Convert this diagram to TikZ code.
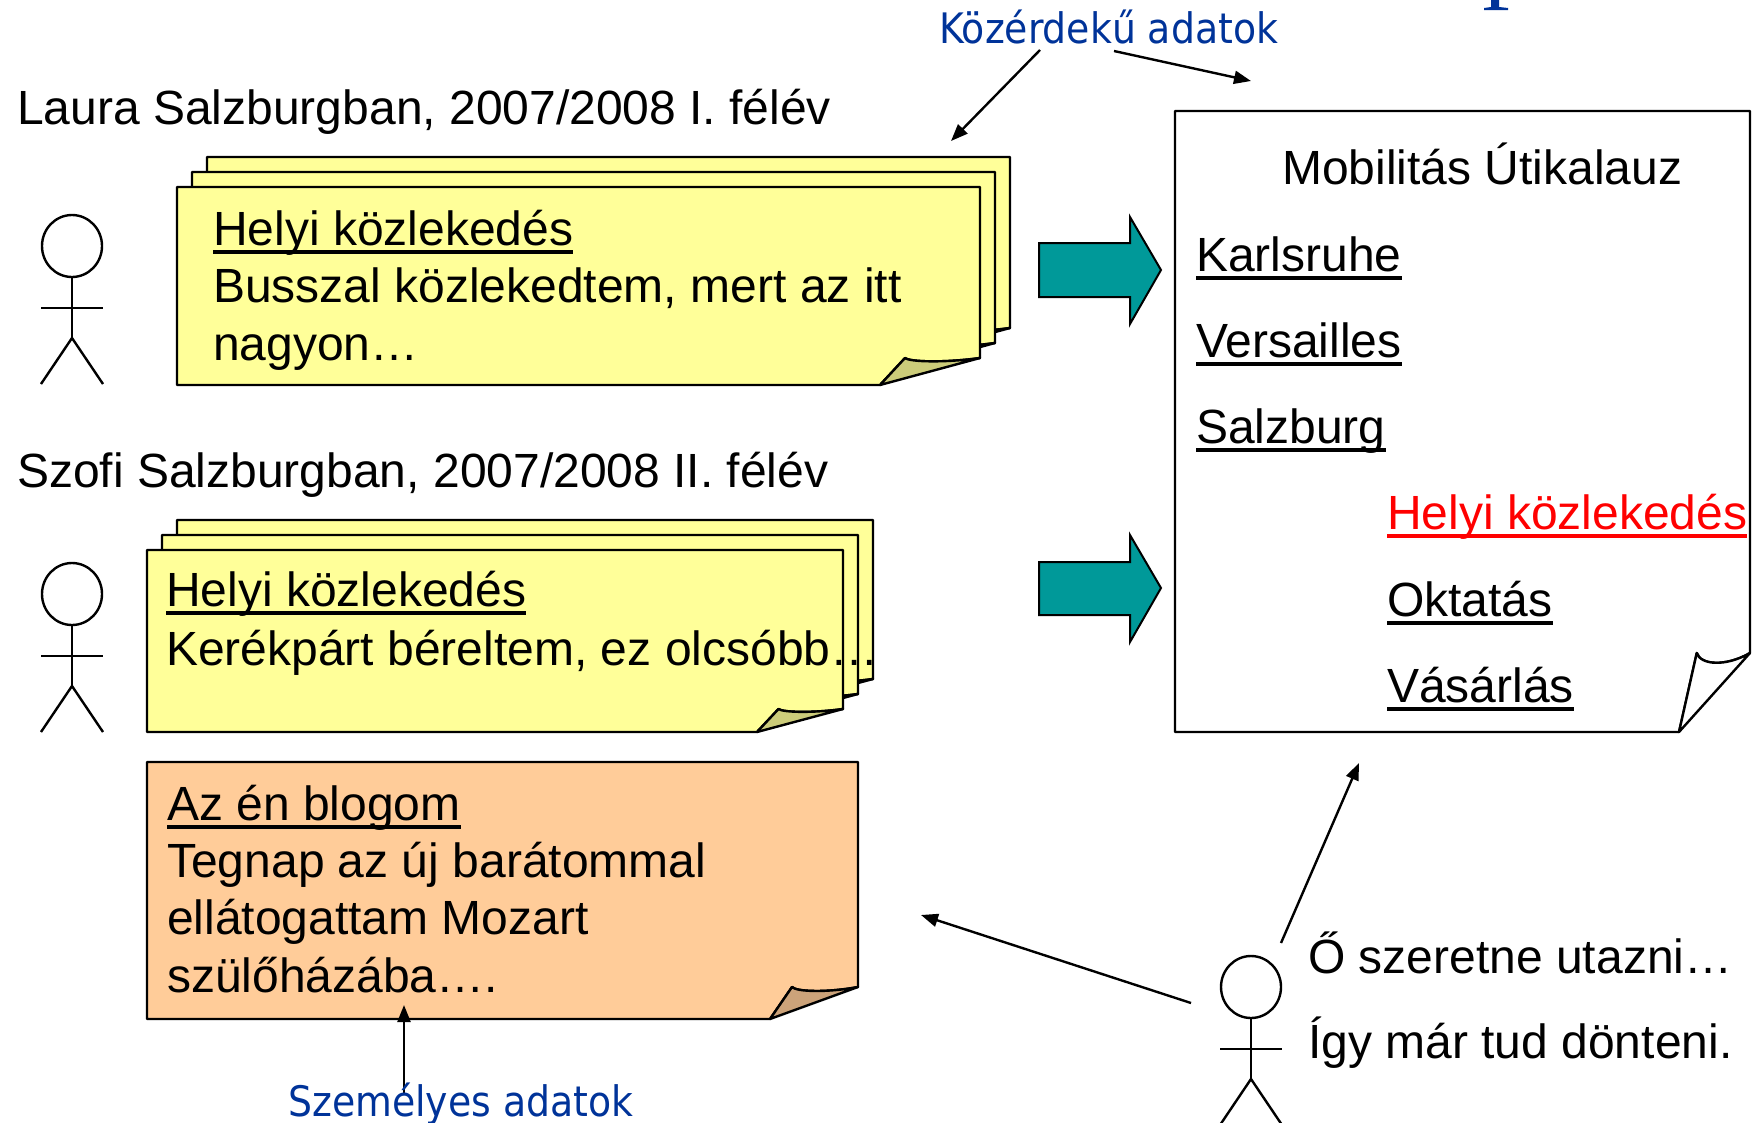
\documentclass[tikz,border=0pt]{standalone}
\usepackage{fontspec}
\setmainfont{Liberation Sans}
\newfontfamily\bluefont{DejaVu Sans Condensed}
\usetikzlibrary{arrows.meta}
\definecolor{noteyellow}{RGB}{255,255,153}
\definecolor{noteyellowfold}{RGB}{204,204,122}
\definecolor{noteorange}{RGB}{255,204,153}
\definecolor{noteorangefold}{RGB}{204,163,122}
\definecolor{arrowteal}{RGB}{0,153,153}
\definecolor{labelblue}{RGB}{0,51,153}
\definecolor{linkred}{RGB}{255,0,0}

\newsavebox\ulbox
\newcommand{\ulink}[1]{\sbox\ulbox{#1}\rlap{\rule[-8.8pt]{\wd\ulbox}{3.6pt}}\usebox\ulbox}

% note with curled corner: body style, fold style, left, top, right, bottom, curl width, curl height
\newcommand{\stickynote}[8]{%
  \filldraw[#1] (#3,#4) -- (#5,#4) -- (#5,#6-#8)
    .. controls (#5-0.35*#7,#6-0.82*#8) and (#5-0.7*#7,#6-0.85*#8) .. (#5-0.75*#7,#6-#8)
    -- (#5-#7,#6) -- (#3,#6) -- cycle;
  \filldraw[#2] (#5-#7,#6) -- (#5-0.75*#7,#6-#8)
    .. controls (#5-0.7*#7,#6-0.85*#8) and (#5-0.35*#7,#6-0.82*#8) .. (#5,#6-#8) -- cycle;
}
% stick figure, head centre at (#1,#2)
\newcommand{\stickfigure}[2]{%
  \draw[figure] (#1,#2) ellipse (30 and 31);
  \draw[figure] (#1,#2+31) -- (#1,#2+92);
  \draw[figure] (#1-31,#2+62) -- (#1+31,#2+62);
  \draw[figure] (#1-31,#2+138) -- (#1,#2+92) -- (#1+31,#2+138);
}

\begin{document}
\begin{tikzpicture}[x=1pt,y=-1pt,
  txt/.style={anchor=base west,inner sep=0pt,font=\fontsize{48}{57.6}\selectfont},
  bluetxt/.style={anchor=base west,inner sep=0pt,text=labelblue,font=\bluefont\fontsize{42}{50}\selectfont},
  yellownote/.style={fill=noteyellow,draw=black,line width=2.4pt,line join=round},
  yellowfold/.style={fill=noteyellowfold,draw=black,line width=2.4pt,line join=round},
  orangenote/.style={fill=noteorange,draw=black,line width=2.4pt,line join=round},
  orangefold/.style={fill=noteorangefold,draw=black,line width=2.4pt,line join=round},
  docnote/.style={fill=white,draw=black,line width=2.4pt,line join=round},
  figure/.style={line width=2.4pt},
  bigarrow/.style={fill=arrowteal,draw=black,line width=2pt,line join=miter},
  link/.style={line width=2.4pt,-{Triangle[length=17pt,width=13pt]}}]
\useasboundingbox (0,0) rectangle (1756,1122);

% cut-off title glyph
\fill[labelblue] (1491,0) -- (1499,0) -- (1499,7) -- (1508,8) -- (1508,10) -- (1484,10) -- (1484,8) -- (1491,7) -- cycle;

% Laura
\node[txt] (laura) at (17,124) {Laura Salzburgban, 2007/2008 I. félév};
\stickfigure{72}{246}
\stickynote{yellownote}{yellowfold}{207}{157}{1010}{355}{100}{27}
\stickynote{yellownote}{yellowfold}{192}{172}{995}{370}{100}{27}
\stickynote{yellownote}{yellowfold}{177}{187}{980}{385}{100}{27}
\node[txt] (laurahead) at (213,245) {\ulink{Helyi közlekedés}};
\node[txt] (laura1) at (213,302) {Busszal közlekedtem, mert az itt};
\node[txt] (laura2) at (213,360) {nagyon…};

% Szofi
\node[txt] (szofi) at (17,487) {Szofi Salzburgban, 2007/2008 II. félév};
\stickfigure{72}{594}
\stickynote{yellownote}{yellowfold}{177}{520}{873}{702}{86}{23}
\stickynote{yellownote}{yellowfold}{162}{535}{858}{717}{86}{23}
\stickynote{yellownote}{yellowfold}{147}{550}{843}{732}{86}{23}
\node[txt] (szofihead) at (166,606) {\ulink{Helyi közlekedés}};
\node[txt] (szofi1) at (166,665) {Kerékpárt béreltem, ez olcsóbb…};

% blog
\stickynote{orangenote}{orangefold}{147}{762}{858}{1019}{88}{32}
\node[txt] (bloghead) at (167,820) {\ulink{Az én blogom}};
\node[txt] (blog1) at (167,877) {Tegnap az új barátommal};
\node[txt] (blog2) at (167,934) {ellátogattam Mozart};
\node[txt] (blog3) at (167,992) {szülőházába….};

% teal arrows
\draw[bigarrow] (1039,243) -- (1130,243) -- (1130,217) -- (1161,270) -- (1130,324) -- (1130,297) -- (1039,297) -- cycle;
\draw[bigarrow] (1039,562) -- (1130,562) -- (1130,535) -- (1161,588) -- (1130,642) -- (1130,615) -- (1039,615) -- cycle;

% guide
\stickynote{docnote}{docnote}{1175}{111}{1750}{732}{71}{79}
\node[txt] (guide) at (1282,184) {Mobilitás Útikalauz};
\node[txt] (karlsruhe) at (1196,271) {\ulink{Karlsruhe}};
\node[txt] (versailles) at (1196,357) {\ulink{Versailles}};
\node[txt] (salzburg) at (1196,443) {\ulink{Salzburg}};
\node[txt,text=linkred] (transport) at (1387,529) {\ulink{Helyi közlekedés}};
\node[txt] (education) at (1387,616) {\ulink{Oktatás}};
\node[txt] (shopping) at (1387,702) {\ulink{Vásárlás}};

% traveller
\stickfigure{1251}{987}
\node[txt] (wish) at (1308,973) {Ő szeretne utazni…};
\node[txt] (decide) at (1308,1058) {Így már tud dönteni.};

% labels
\node[bluetxt] (public) at (939,43) {Közérdekű adatok};
\coordinate (public-a) at (1040,50);
\coordinate (public-b) at (1114,51);
\coordinate (stacktop) at (951,141);
\coordinate (guidetop) at (1251,81);
\draw[link] (public-a) -- (stacktop);
\draw[link] (public-b) -- (guidetop);

\coordinate (personal-a) at (404,1095);
\coordinate (blogbottom) at (404,1005);
\draw[link] (personal-a) -- (blogbottom);
\node[bluetxt] (personal) at (288,1116) {Személyes adatok};

\coordinate (traveller-a) at (1191,1003);
\coordinate (blogside) at (921,915);
\coordinate (traveller-b) at (1281,943);
\coordinate (guidebottom) at (1359,763);
\draw[link] (traveller-a) -- (blogside);
\draw[link] (traveller-b) -- (guidebottom);
\end{tikzpicture}
\end{document}
